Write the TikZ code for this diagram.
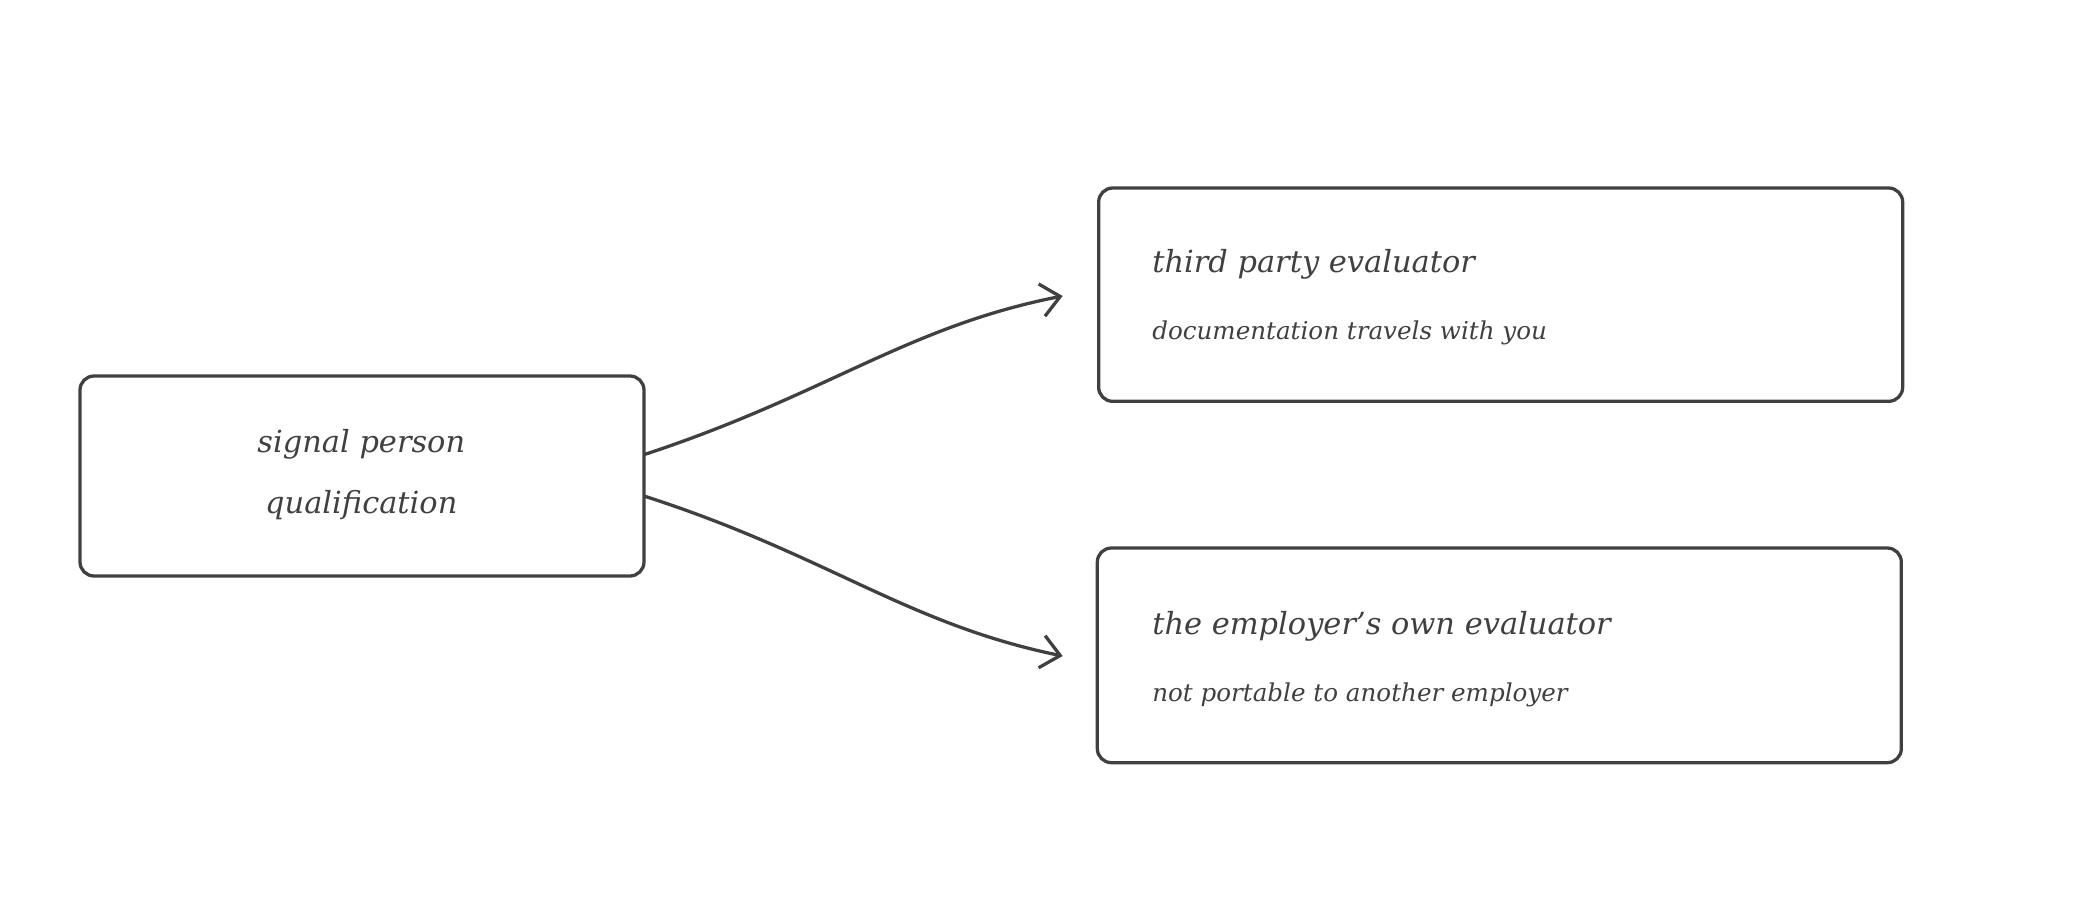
\documentclass[tikz,border=0pt]{standalone}
\usepackage{fontspec}
\setmainfont{DejaVu Serif}
\usetikzlibrary{arrows.meta}
\begin{document}
\begin{tikzpicture}[x=0.02cm,y=-0.02cm,
  box/.style={draw=black!75,line width=1.4pt,rounded corners=6pt},
  head/.style={anchor=west,font=\fontsize{13}{15}\selectfont\itshape,text=black!75},
  sub/.style={anchor=west,font=\fontsize{10.5}{12}\selectfont\itshape,text=black!75},
  link/.style={draw=black!75,line width=1.4pt,-{Straight Barb[length=8pt,width=14pt]}}]
  \useasboundingbox (0,0) rectangle (1560,680);
  % boxes
  \draw[box] (60,282) rectangle (483,432);
  \draw[box] (824,141) rectangle (1427,301);
  \draw[box] (823,411) rectangle (1426,572);
  % texts
  \node[align=center,font=\fontsize{13}{26}\selectfont\itshape,text=black!75] (sig) at (271,356) {signal person\\qualification};
  \node[head] (third) at (858,198) {third party evaluator};
  \node[sub] (thirdsub) at (858,250) {documentation travels with you};
  \node[head] (emp) at (858,470) {the employer's own evaluator};
  \node[sub] (empsub) at (858,521) {not portable to another employer};
  % connectors
  \coordinate (a1) at (483,341);
  \coordinate (a2) at (483,372);
  \coordinate (b1) at (797,222);
  \coordinate (b2) at (797,492);
  \draw[link] (a1) .. controls (620,296) and (680,245) .. (b1);
  \draw[link] (a2) .. controls (620,416) and (680,468) .. (b2);
\end{tikzpicture}
\end{document}
